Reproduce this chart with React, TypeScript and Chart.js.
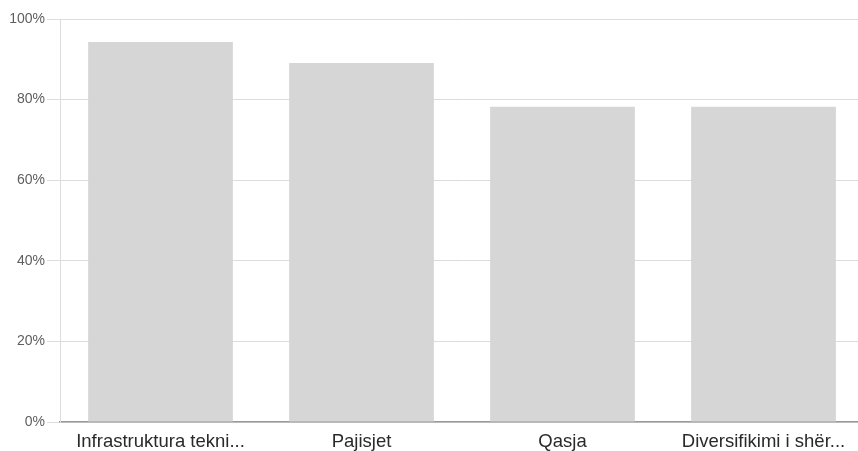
import React, { useEffect, useRef } from "react";
import { Chart, registerables } from "chart.js";

Chart.register(...registerables);

const categories = ["Infrastruktura tekni...", "Pajisjet", "Qasja", "Diversifikimi i shër..."];
const values = [94.3, 89.1, 78.2, 78.2];
const yTicks = [0, 20, 40, 60, 80, 100];

export default function App() {
  const ref = useRef<HTMLCanvasElement | null>(null);
  useEffect(() => {
    if (!ref.current) return;
    const chart = new Chart(ref.current, {
      type: "bar",
      data: {
        labels: categories,
        datasets: [
          {
            data: values,
            backgroundColor: "#d6d6d6",
            borderWidth: 0,
            barPercentage: 0.9,
            categoryPercentage: 0.8,
          },
        ],
      },
      options: {
        responsive: false,
        animation: false,
        devicePixelRatio: 1,
        layout: { padding: { top: 19, left: 0, right: 0, bottom: 0 } },
        plugins: { legend: { display: false }, tooltip: { enabled: false } },
        scales: {
          x: {
            grid: { display: false, drawTicks: false },
            border: { display: true, color: "#999999", width: 1.5 },
            ticks: {
              padding: 9,
              maxRotation: 0,
              autoSkip: false,
              color: "#2a2a2a",
              font: { family: "'Liberation Sans', Arial, sans-serif", size: 18.5 },
            },
            afterFit: (s: any) => {
              s.height = 29;
            },
          },
          y: {
            min: 0,
            max: 100,
            afterBuildTicks: (s: any) => {
              s.ticks = yTicks.map((v) => ({ value: v }));
            },
            grid: { color: "#dcdcdc", tickLength: 13, lineWidth: 1 },
            border: { display: true, color: "#dcdcdc", width: 1 },
            ticks: {
              padding: 2,
              color: "#5e5e5e",
              font: { family: "'Liberation Sans', Arial, sans-serif", size: 14 },
              callback: (v: any) => v + "%",
            },
            afterFit: (s: any) => {
              s.width = 60;
            },
          },
        },
      },
    });
    return () => chart.destroy();
  }, []);
  return (
    <div
      style={{
        position: "fixed",
        left: 0,
        top: 0,
        width: 858,
        height: 451,
        overflow: "hidden",
        background: "#ffffff",
      }}
    >
      <canvas ref={ref} width={864} height={451} style={{ display: "block" }} />
    </div>
  );
}
